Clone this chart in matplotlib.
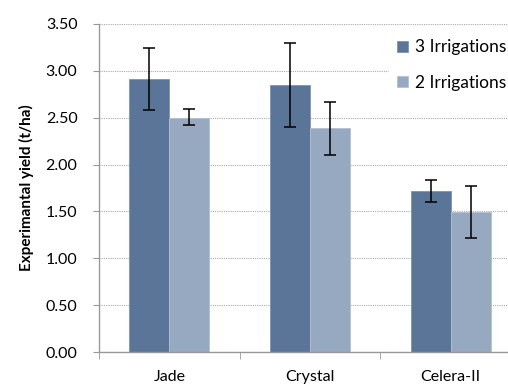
import numpy as np
import matplotlib.pyplot as plt

# data
varieties = ['Jade', 'Crystal', 'Celera-II']
series_names = ['3 Irrigations', '2 Irrigations']
yield_3 = [2.91, 2.85, 1.72]
yield_2 = [2.50, 2.39, 1.49]
err_3_lo = [2.58, 2.40, 1.60]
err_3_hi = [3.24, 3.30, 1.84]
err_2_lo = [2.42, 2.10, 1.22]
err_2_hi = [2.59, 2.67, 1.77]
y_ticks = [0.0, 0.5, 1.0, 1.5, 2.0, 2.5, 3.0, 3.5]

plt.rcParams['font.family'] = ['Lato', 'DejaVu Sans']

fig = plt.figure(figsize=(5.08, 3.85), dpi=100)
ax = fig.add_axes([0.1949, 0.0857, 0.831, 0.852])

x = np.arange(len(varieties))
w = 0.285
dark = '#5B7599'
light = '#97A9C1'

yerr3 = [np.array(yield_3) - np.array(err_3_lo), np.array(err_3_hi) - np.array(yield_3)]
yerr2 = [np.array(yield_2) - np.array(err_2_lo), np.array(err_2_hi) - np.array(yield_2)]

ax.bar(x - w / 2, yield_3, w, color=dark, edgecolor='#7E93B0', linewidth=0.6,
       label=series_names[0], zorder=2)
ax.bar(x + w / 2, yield_2, w, color=light, edgecolor='#B4C1D3', linewidth=0.6,
       label=series_names[1], zorder=2)
ax.errorbar(x - w / 2, yield_3, yerr=yerr3, fmt='none', ecolor='black',
            elinewidth=1.1, capsize=4, capthick=1.1, zorder=3)
ax.errorbar(x + w / 2, yield_2, yerr=yerr2, fmt='none', ecolor='black',
            elinewidth=1.1, capsize=4, capthick=1.1, zorder=3)

ax.set_xlim(-0.5, len(varieties) - 0.5)
ax.set_ylim(0, 3.5)
ax.set_yticks(y_ticks)
ax.set_yticklabels(['%.2f' % v for v in y_ticks], fontsize=11.5)
ax.set_xticks(x)
ax.set_xticklabels(varieties, fontsize=11.5)
ax.tick_params(axis='x', length=0, pad=13)
ax.set_xticks(np.arange(-0.5, len(varieties)), minor=True)
ax.tick_params(axis='x', which='minor', length=5, color='#999999', direction='out')
ax.tick_params(axis='y', length=4.5, color='#999999', direction='out', pad=11)

ax.grid(axis='y', linestyle=(0, (1, 1)), color='#AAAAAA', linewidth=0.8, zorder=0)
ax.set_axisbelow(True)
for s in ['top', 'right']:
    ax.spines[s].set_visible(False)
for s in ['left', 'bottom']:
    ax.spines[s].set_color('#999999')
    ax.spines[s].set_linewidth(1.0)

ax.set_ylabel('Experimantal yield (t/ha)', fontsize=11, fontweight='bold', labelpad=8)

leg = fig.legend(loc='upper left', bbox_to_anchor=(0.765, 0.92), frameon=True,
                 fontsize=12.5, handlelength=0.6, handleheight=0.6, handletextpad=0.4,
                 labelspacing=1.1, borderpad=0.5, borderaxespad=0, fancybox=False)
leg.get_frame().set_edgecolor('white')
leg.get_frame().set_facecolor('white')
leg.get_frame().set_alpha(1)

fig.savefig('out.png', dpi=100)
